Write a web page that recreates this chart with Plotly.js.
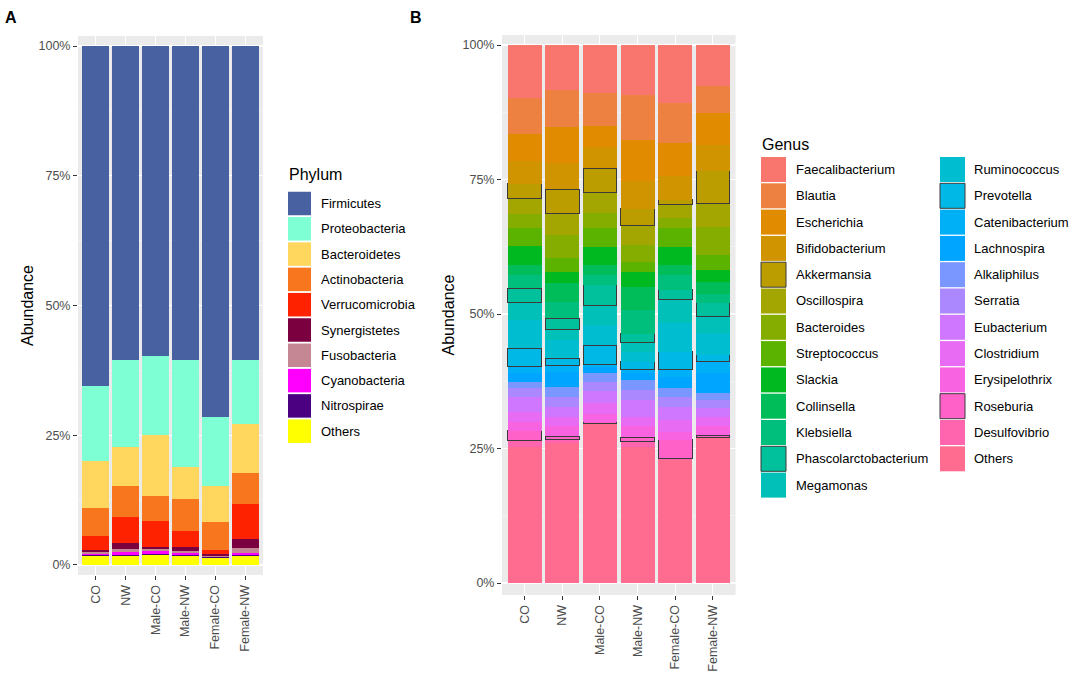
<!DOCTYPE html>
<html>
<head>
<meta charset="utf-8">
<script src="https://cdn.plot.ly/plotly-3.0.1.min.js"></script>
<style>html,body{margin:0;padding:0;background:#fff;}#chart{width:1084px;height:687px;}</style>
</head>
<body>
<div id="chart"></div>
<script>
// ---------- data ----------
const groups = ["CO", "NW", "Male-CO", "Male-NW", "Female-CO", "Female-NW"];

const phyla = ["Firmicutes", "Proteobacteria", "Bacteroidetes", "Actinobacteria", "Verrucomicrobia",
  "Synergistetes", "Fusobacteria", "Cyanobacteria", "Nitrospirae", "Others"];
const phylumCO       = [65.5, 14.4, 9.2, 5.25, 2.75, 0.4, 0.3, 0.3, 0.2, 1.7];
const phylumNW       = [60.5, 16.7, 7.5, 6.1, 5.0, 1.2, 0.5, 0.5, 0.2, 1.8];
const phylumMaleCO   = [59.8, 15.2, 11.7, 4.8, 5.0, 0.5, 0.3, 0.5, 0.2, 2.0];
const phylumMaleNW   = [60.5, 20.7, 6.1, 6.1, 3.1, 0.75, 0.35, 0.4, 0.2, 1.8];
const phylumFemaleCO = [71.4, 13.3, 6.95, 5.4, 0.75, 0.5, 0.1, 0.1, 0.1, 1.4];
const phylumFemaleNW = [60.5, 12.3, 9.4, 6.1, 6.6, 1.75, 1.05, 0.4, 0.2, 1.7];

const genera = ["Faecalibacterium", "Blautia", "Escherichia", "Bifidobacterium", "Akkermansia",
  "Oscillospira", "Bacteroides", "Streptococcus", "Slackia", "Collinsella", "Klebsiella",
  "Phascolarctobacterium", "Megamonas", "Ruminococcus", "Prevotella", "Catenibacterium",
  "Lachnospira", "Alkaliphilus", "Serratia", "Eubacterium", "Clostridium", "Erysipelothrix",
  "Roseburia", "Desulfovibrio", "Others"];
const genusCO       = [9.9, 6.7, 4.9, 4.3, 2.7, 2.9, 2.6, 3.4, 3.5, 1.9, 2.4, 2.7, 3.2, 5.3, 3.4, 1.2, 1.6, 1.2, 1.6, 2.8, 1.8, 1.7, 1.9, 1.1, 25.3];
const genusNW       = [8.4, 6.9, 6.7, 4.8, 4.5, 4.0, 4.3, 2.5, 2.2, 3.4, 3.1, 2.0, 2.0, 3.4, 1.3, 1.2, 2.8, 1.9, 1.8, 1.9, 1.8, 1.8, 0.6, 0.7, 26.0];
const genusMaleCO   = [8.9, 6.2, 3.9, 3.9, 4.6, 3.7, 2.9, 3.5, 3.3, 1.9, 1.8, 3.9, 3.5, 3.8, 3.5, 0.5, 1.2, 1.6, 1.8, 2.2, 1.9, 1.5, 0.3, 0.2, 29.5];
const genusMaleNW   = [9.2, 8.5, 7.5, 5.2, 3.1, 3.7, 3.1, 1.8, 2.8, 4.4, 4.4, 1.6, 1.7, 1.9, 1.4, 0.7, 1.3, 1.8, 1.9, 3.1, 1.8, 2.0, 0.8, 1.0, 25.3];
const genusFemaleCO = [10.7, 7.5, 6.1, 4.5, 0.8, 2.6, 1.9, 3.4, 3.4, 1.9, 2.7, 1.8, 4.4, 5.3, 3.4, 1.3, 2.1, 1.6, 1.8, 2.5, 2.2, 1.5, 3.4, 0.3, 22.9];
const genusFemaleNW = [7.6, 5.0, 6.0, 4.8, 6.0, 4.4, 5.2, 2.8, 2.2, 2.2, 1.7, 2.5, 3.2, 4.0, 1.3, 2.1, 3.6, 1.4, 1.5, 1.6, 1.8, 1.6, 0.4, 0.1, 27.0];
const outlinedGenera = ["Akkermansia", "Phascolarctobacterium", "Prevotella", "Roseburia"];

const yTicks = [0, 25, 50, 75, 100];
const yTickLabels = ["0%", "25%", "50%", "75%", "100%"];

// ---------- styles ----------
const phylumColors = ["#4862A1", "#7FFFD4", "#FFD75E", "#F8761E", "#FF2200",
  "#7A0040", "#C48793", "#FF00FF", "#4B0082", "#FFFF00"];

function hclHex(h, c, l) {
  const hr = h * Math.PI / 180;
  const U = c * Math.cos(hr), V = c * Math.sin(hr);
  const Xn = 95.047, Yn = 100, Zn = 108.883;
  const den = Xn + 15 * Yn + 3 * Zn;
  const un = 4 * Xn / den, vn = 9 * Yn / den;
  const Y = Yn * Math.pow((l + 16) / 116, 3);
  const u = U / (13 * l) + un, v = V / (13 * l) + vn;
  const X = 9 * Y * u / (4 * v);
  const Z = Y * (12 - 3 * u - 20 * v) / (4 * v);
  const x = X / 100, y = Y / 100, z = Z / 100;
  const lin = [3.240479 * x - 1.537150 * y - 0.498535 * z,
              -0.969256 * x + 1.875992 * y + 0.041556 * z,
               0.055648 * x - 0.204043 * y + 1.057311 * z];
  return "#" + lin.map(t => {
    let s = t <= 0.0031308 ? 12.92 * t : 1.055 * Math.pow(t, 1 / 2.4) - 0.055;
    s = Math.max(0, Math.min(1, s));
    return Math.round(s * 255).toString(16).padStart(2, "0");
  }).join("");
}
const genusColors = genera.map((g, i) => hclHex(15 + i * 360 / genera.length, 100, 65));

const W = 1084, H = 687;
const px = v => v / W;
const py = v => 1 - v / H;
const FONT = "Liberation Sans, Arial, Helvetica, sans-serif";

// ---------- traces ----------
const phylumByGroup = [phylumCO, phylumNW, phylumMaleCO, phylumMaleNW, phylumFemaleCO, phylumFemaleNW];
const genusByGroup = [genusCO, genusNW, genusMaleCO, genusMaleNW, genusFemaleCO, genusFemaleNW];

const traces = [];
for (let i = phyla.length - 1; i >= 0; i--) {
  traces.push({
    type: "bar", name: phyla[i], x: groups, y: phylumByGroup.map(a => a[i]),
    xaxis: "x", yaxis: "y", width: 0.9, showlegend: false,
    marker: {color: phylumColors[i], line: {width: 0}}, hoverinfo: "x+y+name"
  });
}
for (let i = genera.length - 1; i >= 0; i--) {
  const outl = outlinedGenera.includes(genera[i]);
  traces.push({
    type: "bar", name: genera[i], x: groups, y: genusByGroup.map(a => a[i]),
    xaxis: "x2", yaxis: "y2", width: 0.9, showlegend: false,
    marker: {color: genusColors[i], line: {width: outl ? 1 : 0, color: "#3a3a3a"}}, hoverinfo: "x+y+name"
  });
}

// ---------- legends (keys + labels) ----------
const shapes = [];
const annotations = [];
function legendItem(label, color, outlined, kx, cy, kw, kh, tx) {
  shapes.push({type: "rect", xref: "paper", yref: "paper",
    x0: px(kx), x1: px(kx + kw), y0: py(cy + kh / 2), y1: py(cy - kh / 2),
    fillcolor: color, line: {width: outlined ? 1 : 0, color: "#3a3a3a"}, layer: "above"});
  annotations.push({text: label, xref: "paper", yref: "paper", x: px(tx), y: py(cy),
    xanchor: "left", yanchor: "middle", showarrow: false, font: {size: 13, color: "#000", family: FONT}});
}
annotations.push({text: "Phylum", xref: "paper", yref: "paper", x: px(287), y: py(175),
  xanchor: "left", yanchor: "middle", showarrow: false, font: {size: 16, color: "#000", family: FONT}});
phyla.forEach((p, i) => legendItem(p, phylumColors[i], false, 288, 203.5 + i * 25.3, 23, 23.5, 319));

annotations.push({text: "Genus", xref: "paper", yref: "paper", x: px(760), y: py(144),
  xanchor: "left", yanchor: "middle", showarrow: false, font: {size: 16, color: "#000", family: FONT}});
genera.forEach((g, i) => {
  const col = i < 13 ? 0 : 1;
  const row = i < 13 ? i : i - 13;
  legendItem(g, genusColors[i], outlinedGenera.includes(g),
    col ? 940 : 761, 169.5 + row * 26.3, 25, 25, col ? 972 : 794);
});

annotations.push({text: "<b>A</b>", xref: "paper", yref: "paper", x: px(3), y: py(17),
  xanchor: "left", yanchor: "middle", showarrow: false, font: {size: 16, color: "#000", family: FONT}});
annotations.push({text: "<b>B</b>", xref: "paper", yref: "paper", x: px(408), y: py(17),
  xanchor: "left", yanchor: "middle", showarrow: false, font: {size: 16, color: "#000", family: FONT}});

// ---------- axes ----------
function xAxis(d0, d1, anchor) {
  return {domain: [px(d0), px(d1)], anchor: anchor, type: "category", range: [-0.6, 5.6],
    tickangle: -90, ticks: "outside", ticklen: 4, tickwidth: 1, tickcolor: "#333",
    tickfont: {size: 12.5, color: "#4D4D4D", family: FONT},
    showgrid: true, gridcolor: "#FFFFFF", gridwidth: 1, zeroline: false, showline: false, fixedrange: true};
}
function yAxis(top, bottom, r0, r1, anchor, standoff) {
  return {domain: [py(bottom), py(top)], anchor: anchor, range: [r0, r1],
    tickmode: "array", tickvals: yTicks, ticktext: yTickLabels, ticks: "outside", ticklen: 4, tickwidth: 1, tickcolor: "#333",
    tickfont: {size: 12.5, color: "#4D4D4D", family: FONT},
    showgrid: true, gridcolor: "#FFFFFF", gridwidth: 1.1, zeroline: false, showline: false,
    minor: {tickvals: [12.5, 37.5, 62.5, 87.5], showgrid: true, gridcolor: "#F7F7F7", gridwidth: 0.6, ticks: ""},
    title: {text: "Abundance", font: {size: 16, color: "#000", family: FONT}, standoff: standoff},
    fixedrange: true};
}

const layout = {
  width: W, height: H,
  margin: {l: 0, r: 0, t: 0, b: 0},
  paper_bgcolor: "#FFFFFF", plot_bgcolor: "#EBEBEB",
  barmode: "stack", showlegend: false,
  font: {family: FONT},
  xaxis: xAxis(78, 263, "y"),
  yaxis: yAxis(36, 575, -1.93, 101.93, "x", 0),
  xaxis2: xAxis(502, 735.6, "y2"),
  yaxis2: yAxis(35, 595, -2.23, 101.86, "x2", 3),
  shapes: shapes,
  annotations: annotations
};

Plotly.newPlot("chart", traces, layout, {staticPlot: true, displayModeBar: false});
</script>
</body>
</html>
